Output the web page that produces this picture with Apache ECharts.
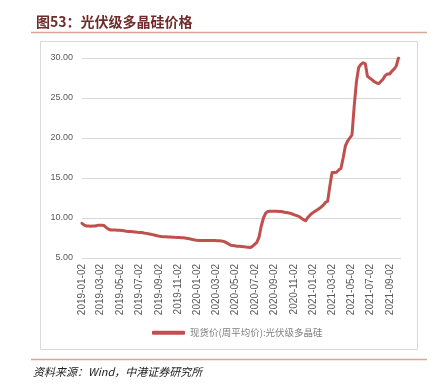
<!DOCTYPE html>
<html>
<head>
<meta charset="utf-8">
<script src="https://cdn.jsdelivr.net/npm/echarts@6/dist/echarts.min.js"></script>
<style>
  html, body { margin: 0; padding: 0; background: #fff; }
  #chart { width: 431px; height: 391px; }
</style>
</head>
<body>
<div id="chart"></div>
<script>
// 周度数据，起始 2019-01-02，每周一个点
const startDate = '2019-01-02'
const seriesName = '现货价(周平均价):光伏级多晶硅'
const priceValues = [
  9.34, 9.1, 9.0, 9.0, 8.98, 9.0, 9.0, 9.08, 9.1, 9.1,
  9.05, 8.8, 8.6, 8.5, 8.5, 8.5, 8.48, 8.48, 8.45, 8.4,
  8.35, 8.32, 8.3, 8.28, 8.25, 8.22, 8.2, 8.18, 8.12, 8.08,
  8.03, 7.98, 7.92, 7.85, 7.78, 7.72, 7.68, 7.66, 7.65, 7.63,
  7.62, 7.6, 7.58, 7.57, 7.56, 7.54, 7.52, 7.48, 7.44, 7.38,
  7.3, 7.25, 7.22, 7.2, 7.2, 7.2, 7.2, 7.2, 7.2, 7.18,
  7.18, 7.16, 7.15, 7.12, 7.08, 6.95, 6.8, 6.62, 6.55, 6.52,
  6.48, 6.46, 6.44, 6.42, 6.38, 6.33, 6.3, 6.45, 6.7, 6.95,
  7.6, 9.0, 10.0, 10.6, 10.82, 10.85, 10.85, 10.85, 10.85, 10.82,
  10.8, 10.75, 10.7, 10.65, 10.6, 10.5, 10.4, 10.3, 10.2, 10.0,
  9.8, 9.65, 10.05, 10.35, 10.6, 10.8, 10.95, 11.15, 11.35, 11.6,
  11.95, 12.1, 14.0, 15.7, 15.7, 15.72, 16.0, 16.2, 17.5, 19.0,
  19.6, 20.0, 20.4, 24.0, 27.0, 28.8, 29.2, 29.4, 29.3, 27.7,
  27.5, 27.3, 27.05, 26.9, 26.8, 27.05, 27.35, 27.8, 28.0, 28.0,
  28.35, 28.6, 29.0, 30.0
]
const xTickLabels = [
  '2019-01-02', '2019-03-02', '2019-05-02', '2019-07-02', '2019-09-02',
  '2019-11-02', '2020-01-02', '2020-03-02', '2020-05-02', '2020-07-02',
  '2020-09-02', '2020-11-02', '2021-01-02', '2021-03-02', '2021-05-02',
  '2021-07-02', '2021-09-02'
]
const yTicks = [5, 10, 15, 20, 25, 30]

const DAY = 24 * 3600 * 1000
const parseDate = (s) => {
  const p = s.split('-').map(Number)
  return Date.UTC(p[0], p[1] - 1, p[2])
}
const pad = (n) => (n < 10 ? '0' + n : '' + n)
const fmtDate = (t) => {
  const d = new Date(Math.round(t / DAY) * DAY)
  return d.getUTCFullYear() + '-' + pad(d.getUTCMonth() + 1) + '-' + pad(d.getUTCDate())
}

// x 轴用天数刻度（距起始日的天数）
const t0 = parseDate(startDate)
const lineData = priceValues.map((v, i) => [i * 7, v])
const tickDays = xTickLabels.map((s) => (parseDate(s) - t0) / DAY)

const chart = echarts.init(document.getElementById('chart'))
const option = {
  backgroundColor: '#fff',
  animation: false,
  title: {
    text: '图53：光伏级多晶硅价格',
    left: 31,
    top: 10,
    textStyle: {
      fontFamily: 'Noto Sans CJK SC',
      fontSize: 14,
      fontWeight: 'bold',
      color: '#6e2c2a'
    }
  },
  graphic: [
    {
      type: 'line',
      shape: { x1: 31, y1: 32.5, x2: 427, y2: 32.5 },
      style: { stroke: '#d8a596', lineWidth: 1.5 }
    },
    {
      type: 'rect',
      shape: { x: 40.5, y: 41.5, width: 377, height: 308 },
      style: { fill: 'none', stroke: '#d9d9d9', lineWidth: 1 }
    },
    {
      type: 'line',
      shape: { x1: 31, y1: 359.5, x2: 427, y2: 359.5 },
      style: { stroke: '#d8a596', lineWidth: 1.5 }
    },
    {
      type: 'text',
      left: 33,
      top: 366,
      style: {
        text: '资料来源：Wind，中港证券研究所',
        font: 'italic 11px "Noto Sans CJK SC"',
        fill: '#222'
      }
    }
  ],
  grid: {
    left: 82,
    right: 30,
    top: 58,
    bottom: 133
  },
  legend: {
    left: 147,
    top: 323,
    icon: 'roundRect',
    itemWidth: 33,
    itemHeight: 4,
    itemGap: 10,
    textStyle: {
      fontFamily: 'Noto Sans CJK SC',
      fontSize: 9.5,
      color: '#7f7f7f'
    },
    data: [seriesName]
  },
  xAxis: {
    type: 'value',
    min: 0,
    max: 1009,
    axisLine: { show: false },
    axisTick: { show: false },
    splitLine: { show: false },
    axisLabel: {
      customValues: tickDays,
      rotate: 90,
      margin: 6,
      fontFamily: 'Liberation Sans',
      fontSize: 10,
      color: '#595959',
      formatter: (v) => fmtDate(t0 + v * DAY)
    }
  },
  yAxis: {
    type: 'value',
    min: yTicks[0],
    max: yTicks[yTicks.length - 1],
    interval: 5,
    axisLine: { show: false },
    axisTick: { show: false },
    splitLine: {
      show: true,
      lineStyle: { color: '#d9d9d9', width: 1 }
    },
    axisLabel: {
      margin: 9,
      fontFamily: 'Liberation Sans',
      fontSize: 9,
      color: '#595959',
      formatter: (v) => v.toFixed(2)
    }
  },
  series: [
    {
      name: seriesName,
      type: 'line',
      data: lineData,
      symbol: 'none',
      smooth: false,
      lineStyle: { color: '#c0504d', width: 3, cap: 'round', join: 'round' },
      itemStyle: { color: '#c0504d' }
    }
  ]
}
chart.setOption(option)
</script>
</body>
</html>
